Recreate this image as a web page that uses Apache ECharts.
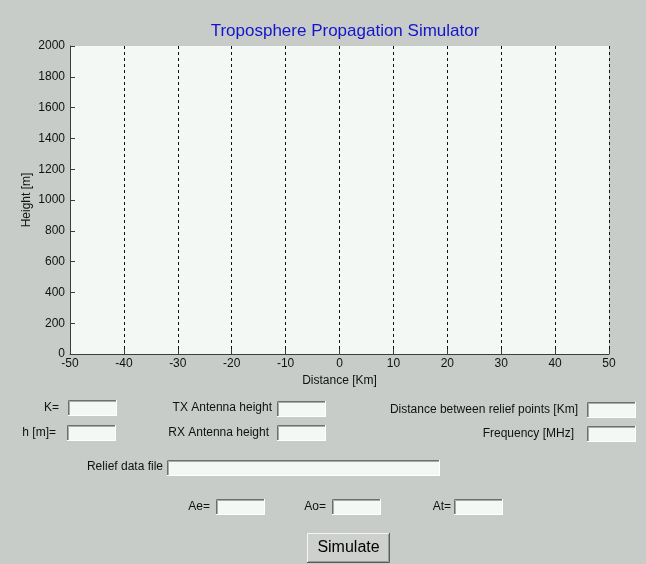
<!DOCTYPE html>
<html>
<head>
<meta charset="utf-8">
<script src="https://cdn.jsdelivr.net/npm/echarts@6/dist/echarts.min.js"></script>
<style>
html,body{margin:0;padding:0;background:#c8ccc8;}
#main{width:646px;height:564px;}
</style>
</head>
<body>
<div id="main"></div>
<script>
// Axis ranges and ticks
var xMin = -50, xMax = 50, xStep = 10;
var yMin = 0, yMax = 2000, yStep = 200;
// Empty simulation result (no relief / ray data plotted yet)
var distanceData = [];
var heightData = [];

var titleText = 'Troposphere Propagation Simulator';
var xName = 'Distance [Km]';
var yName = 'Height [m]';

// GUI control labels
var leftLabels = ['K=', 'h [m]='];
var midLabels = ['TX Antenna height', 'RX Antenna height'];
var rightLabels = ['Distance between relief points [Km]', 'Frequency [MHz]'];
var fileLabel = 'Relief data file';
var resultLabels = ['Ae=', 'Ao=', 'At='];
var buttonLabel = 'Simulate';

var FONT = '"Liberation Sans", Arial, sans-serif';
var BG = '#c8ccc8';
var FIELD = '#f4f8f4';

function textBox(x, y, w, h) {
  return [
    {type: 'rect', shape: {x: x, y: y, width: w, height: h}, style: {fill: FIELD, stroke: null}},
    {type: 'polyline', shape: {points: [[x + 0.5, y + h], [x + 0.5, y + 0.5], [x + w, y + 0.5]]}, style: {stroke: '#6e706e', lineWidth: 1, fill: null}},
    {type: 'polyline', shape: {points: [[x + 1.5, y + h - 1], [x + 1.5, y + 1.5], [x + w - 1, y + 1.5]]}, style: {stroke: '#a8aaa8', lineWidth: 1, fill: null}},
    {type: 'polyline', shape: {points: [[x, y + h - 0.5], [x + w - 0.5, y + h - 0.5], [x + w - 0.5, y]]}, style: {stroke: '#ffffff', lineWidth: 1, fill: null}}
  ];
}
function label(txt, xRight, yMid, size) {
  return {type: 'text', x: xRight, y: yMid, style: {text: txt, fill: '#111', font: (size || 12) + 'px ' + FONT, textAlign: 'right', textVerticalAlign: 'middle'}};
}

var g = [];
g.push(label(leftLabels[0], 59, 408));
g = g.concat(textBox(68, 400, 49, 16));
g.push(label(leftLabels[1], 56, 433));
g = g.concat(textBox(67, 425, 49, 16));
g.push(label(midLabels[0], 272, 408));
g = g.concat(textBox(277, 401, 49, 16));
g.push(label(midLabels[1], 269, 433));
g = g.concat(textBox(277, 425, 49, 16));
g.push(label(rightLabels[0], 578, 410));
g = g.concat(textBox(587, 402, 49, 16));
g.push(label(rightLabels[1], 574, 434));
g = g.concat(textBox(587, 426, 49, 16));
g.push(label(fileLabel, 163, 467));
g = g.concat(textBox(167, 460, 273, 16));
g.push(label(resultLabels[0], 210, 507));
g = g.concat(textBox(216, 499, 49, 16));
g.push(label(resultLabels[1], 326, 507));
g = g.concat(textBox(332, 499, 49, 16));
g.push(label(resultLabels[2], 451, 507));
g = g.concat(textBox(454, 499, 49, 16));
// Simulate button (raised)
g.push({type: 'rect', shape: {x: 307, y: 533, width: 83, height: 30}, style: {fill: '#cdd0cd', stroke: null}});
g.push({type: 'polyline', shape: {points: [[307.5, 563], [307.5, 533.5], [390, 533.5]]}, style: {stroke: '#f4f6f4', lineWidth: 1, fill: null}});
g.push({type: 'polyline', shape: {points: [[307, 562.5], [389.5, 562.5], [389.5, 533]]}, style: {stroke: '#5a5c5a', lineWidth: 1, fill: null}});
g.push({type: 'polyline', shape: {points: [[308, 561.5], [388.5, 561.5], [388.5, 534]]}, style: {stroke: '#9a9c9a', lineWidth: 1, fill: null}});
g.push({type: 'text', x: 348.5, y: 548, style: {text: buttonLabel, fill: '#000', font: '16px ' + FONT, textAlign: 'center', textVerticalAlign: 'middle'}});
// Title
g.push({type: 'text', x: 345, y: 31, style: {text: titleText, fill: '#1414cc', font: '17px ' + FONT, textAlign: 'center', textVerticalAlign: 'middle'}});

var chart = echarts.init(document.getElementById('main'), null, {renderer: 'canvas'});
chart.setOption({
  backgroundColor: BG,
  animation: false,
  grid: {left: 70, right: 37, top: 46, bottom: 210, show: true, backgroundColor: FIELD, borderWidth: 0},
  xAxis: {
    type: 'value', min: xMin, max: xMax, interval: xStep,
    name: xName, nameLocation: 'middle', nameGap: 21, nameMoveOverlap: false,
    nameTextStyle: {color: '#111', fontSize: 12, fontFamily: FONT},
    axisLine: {show: true, onZero: false, lineStyle: {color: '#3c3e3c', width: 1}},
    axisTick: {show: true, inside: true, length: 5, lineStyle: {color: '#3c3e3c'}},
    axisLabel: {color: '#111', fontSize: 12, fontFamily: FONT, margin: 4},
    splitLine: {show: true, lineStyle: {color: '#111', type: [3, 3], width: 1}}
  },
  yAxis: {
    type: 'value', min: yMin, max: yMax, interval: yStep,
    name: yName, nameLocation: 'middle', nameGap: 37, nameRotate: 90, nameMoveOverlap: false,
    nameTextStyle: {color: '#111', fontSize: 12, fontFamily: FONT},
    axisLine: {show: true, onZero: false, lineStyle: {color: '#3c3e3c', width: 1}},
    axisTick: {show: true, inside: true, length: 5, lineStyle: {color: '#3c3e3c'}},
    axisLabel: {color: '#111', fontSize: 12, fontFamily: FONT, margin: 5, formatter: function (v) { return String(v); }},
    splitLine: {show: false}
  },
  series: [{
    type: 'line', data: distanceData.map(function (d, i) { return [d, heightData[i]]; }),
    showSymbol: false, lineStyle: {color: '#0000ff'}
  }],
  graphic: {elements: g}
});
</script>
</body>
</html>
